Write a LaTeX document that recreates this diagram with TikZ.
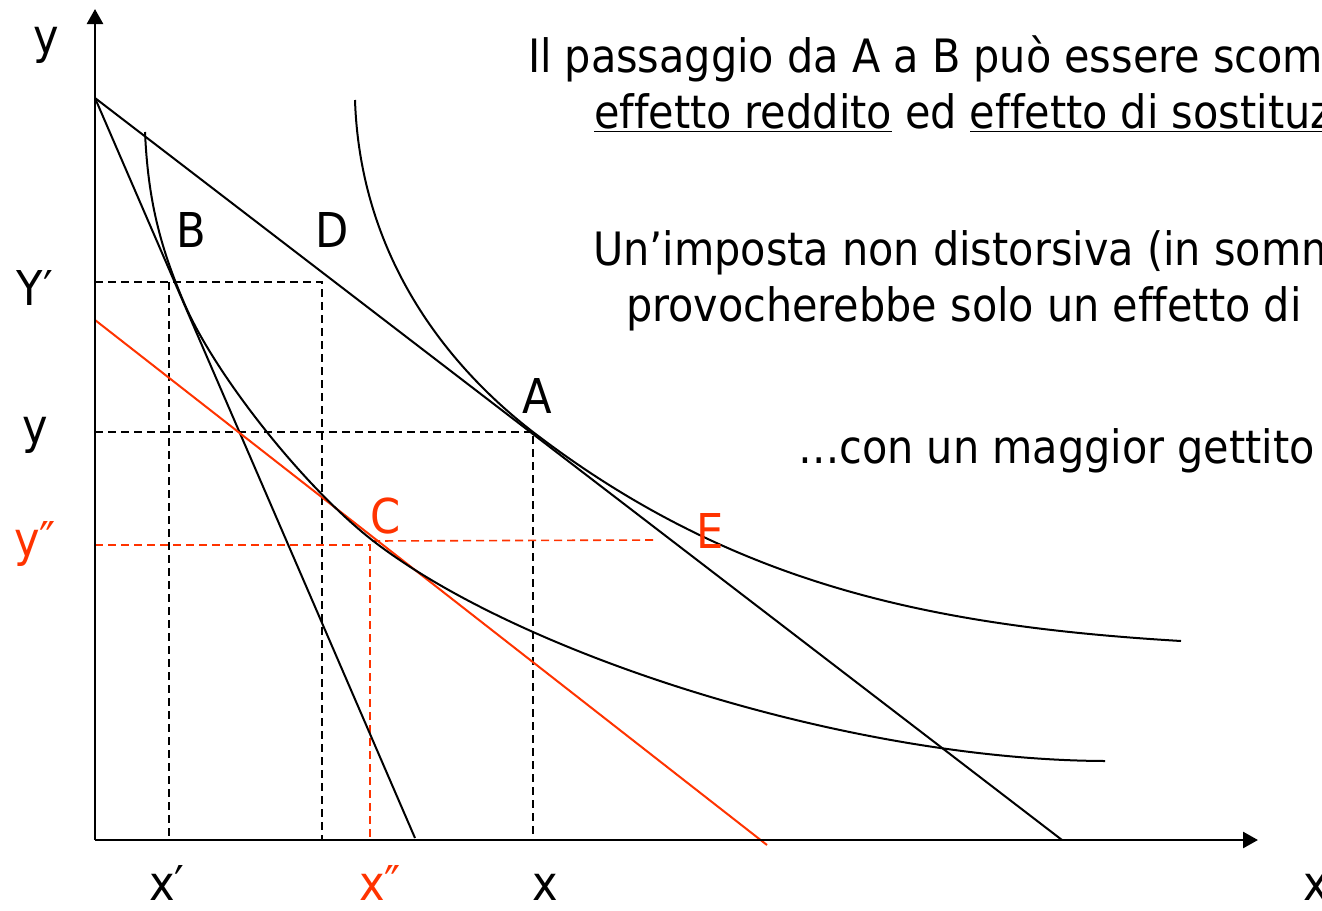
\documentclass[tikz,border=0pt]{standalone}
\usepackage{fontspec}
\setmainfont[Ligatures=NoCommon]{DejaVu Sans Condensed}
\usetikzlibrary{arrows.meta}
\definecolor{taxred}{RGB}{255,51,0}

\begin{document}
\begin{tikzpicture}[x=0.5pt, y=-0.5pt, line width=1pt,
    lbl/.style={anchor=base, inner sep=0pt, font=\fontsize{24}{28}\selectfont},
    txt/.style={anchor=base west, inner sep=0pt, font=\fontsize{23}{27}\selectfont},
    guide/.style={line width=0.8pt, dash pattern=on 4pt off 2.5pt},
    axis/.style={line width=1.3pt, -{Triangle[length=7.5pt,width=8pt]}}]
  \useasboundingbox (0,0) rectangle (1322,910);
  \clip (0,0) rectangle (1322,910);

  % points of the picture
  \coordinate (O) at (95,840);
  \coordinate (ytop) at (95,9);
  \coordinate (xend) at (1258,840);
  \coordinate (Y0) at (95,98);
  \coordinate (P) at (1062,840);
  \coordinate (Q) at (415,838);
  \coordinate (R0) at (95,320);
  \coordinate (R1) at (767,845);
  \coordinate (B) at (169,282);
  \coordinate (D) at (322,282);
  \coordinate (A) at (533,432);
  \coordinate (C) at (370,545);
  \coordinate (C2) at (372,541);
  \coordinate (E) at (655,540);
  \coordinate (T) at (185,305);
  \coordinate (Ct) at (372,540);

  % guides
  \draw[guide] (O |- B) -- (D) -- (D |- O);
  \draw[guide] (B) -- (B |- O);
  \draw[guide] (O |- A) -- (A) -- (A |- O);
  \draw[guide, taxred] (O |- C) -- (C) -- (C |- O);
  \draw[guide, taxred] (C2) -- (E);

  % budget lines
  \draw (Y0) -- (P);
  \draw (Y0) -- (Q);
  \draw[taxred] (R0) -- (R1);

  % indifference curves
  \draw (145,132) .. controls (148,200) and (160,247) .. (T)
        .. controls (215,374) and (302,485) .. (Ct)
        .. controls (520,655) and (850,760) .. (1105,761);
  \draw (355,100) .. controls (360,250) and (440,360) .. (A)
        .. controls (733,585) and (931,626) .. (1181,641);

  % axes
  \draw[axis] (O) -- (ytop);
  \draw[axis] (O) -- (xend);

  % labels
  \node[lbl] (ylab) at (46,54) {y};
  \node[lbl] (xlab) at (1316,900) {x};
  \node[lbl] (Ylab) at (35,305) {Y′};
  \node[lbl] (y0lab) at (35,443) {y};
  \node[lbl, taxred] (y2lab) at (35,556) {y″};
  \node[lbl] (x1lab) at (167,900) {x′};
  \node[lbl, taxred] (x2lab) at (380,900) {x″};
  \node[lbl] (x0lab) at (545,900) {x};
  \node[lbl] (Blab) at (191,247) {B};
  \node[lbl] (Dlab) at (332,247) {D};
  \node[lbl] (Alab) at (537,413) {A};
  \node[lbl, taxred] (Clab) at (386,533) {C};
  \node[lbl, taxred] (Elab) at (710,548) {E};

  % text
  \node[txt] (t1) at (527,72) {Il passaggio da A a B può essere scom};
  \node[txt] (t2) at (593,128) {\underline{effetto reddito} ed \underline{effetto di sostituz}};
  \node[txt] (t3) at (592,265) {Un’imposta non distorsiva (in somm};
  \node[txt] (t4) at (625,321) {provocherebbe solo un effetto di};
  \node[txt] (t5) at (797,463) {…con un maggior gettito};
\end{tikzpicture}
\end{document}
